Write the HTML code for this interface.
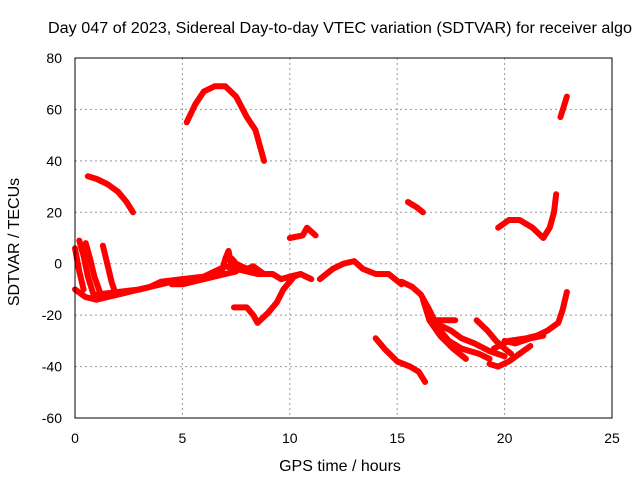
<!DOCTYPE html>
<html><head><meta charset="utf-8"><style>
body{margin:0;background:#fff}
svg{display:block;font-family:"Liberation Sans",sans-serif}
</style></head><body>
<svg id="c" width="640" height="480">
<text x="340" y="33" text-anchor="middle" font-size="15.5" textLength="584" lengthAdjust="spacingAndGlyphs">Day 047 of 2023, Sidereal Day-to-day VTEC variation (SDTVAR) for receiver algo</text>
<text x="340" y="471" text-anchor="middle" font-size="16">GPS time / hours</text>
<text transform="translate(19,242) rotate(-90)" text-anchor="middle" font-size="16">SDTVAR / TECUs</text>
<g id="grid"></g><g id="marks"></g>
<rect x="75" y="58" width="537" height="360" fill="none" stroke="#000"/>
</svg>
<script>
const xTicks=[0,5,10,15,20,25];
const yTicks=[-60,-40,-20,0,20,40,60,80];
const arcHours=[
[0.6,1.0,1.5,2.0,2.4,2.7],
[5.2,5.6,6.0,6.5,7.0,7.5,8.0,8.4,8.8],
[22.6,22.75,22.9],
[15.5,15.9,16.2],
[19.7,20.2,20.7,21.3,21.8,22.1,22.3,22.4],
[10.0,10.6,10.8,11.2],
[0,0.5,1.0,1.5,2,2.5,3,3.5,4,5,6,6.5,7,7.5,8,8.5,9.2,9.6,10,10.5,11],
[4.5,5,6,7,7.5],
[1.0,2,3,4,5],
[0,0.2,0.4],[0.2,0.4,0.6,0.9],[0.5,0.7,0.9,1.2],[1.3,1.5,1.7,1.9],
[6.8,7.0,7.15,7.3],[7.3,7.5,8,8.3,8.8],
[7.4,8.0,8.3,8.5,9.0,9.4,9.7,10.2,10.5],
[11.4,12.0,12.5,13.0,13.4,14.0,14.6,15.2],
[15.2,15.7,16.1,16.5,16.9,17.4,18,18.8,19.3],
[16.2,16.5,17,17.6,18.2],
[16.6,17,17.5,18,18.6,19.3,20],
[16.6,17.2,17.7],
[18.7,19.2,19.6,20,20.3],
[19.3,19.7,20.2,20.7,21.2],
[19.5,20.2,21,21.5,22,22.5,22.7,22.9],
[20,20.5,21.2,21.8],
[14.0,14.4,15.0,15.6,16.0,16.3]
];
const arcValues=[
[34,33,31,28,24,20],
[55,62,67,69,69,65,57,52,40],
[57,61,65],
[24,22,20],
[14,17,17,14,10,14,20,27],
[10,11,14,11],
[-10,-13,-14,-13,-12,-11,-10,-9,-7,-6,-5,-3,-1,-2,-3,-4,-4,-6,-5,-4,-6],
[-8,-8,-6,-4,-3],
[-12,-11,-10,-8,-6],
[6,-3,-10],[9,3,-5,-13],[8,2,-5,-12],[7,0,-7,-12],
[-4,2,5,-2],[2,0,-2,-1,-4],
[-17,-17,-20,-23,-19,-15,-10,-5,-4],
[-6,-2,0,1,-2,-4,-4,-8],
[-7,-9,-12,-18,-25,-30,-33,-35,-37],
[-14,-22,-28,-33,-37],
[-22,-24,-26,-29,-31,-34,-36],
[-22,-22,-22],
[-22,-26,-30,-33,-35],
[-39,-40,-38,-35,-32],
[-33,-30,-29,-28,-26,-23,-18,-11],
[-30,-31,-29,-28],
[-29,-33,-38,-40,-42,-46]
];
const X=h=>75+h*537/25, Y=v=>58+(80-v)*360/140;
const NS='http://www.w3.org/2000/svg';
const g=document.getElementById('grid'), m=document.getElementById('marks');
xTicks.forEach(t=>{
  if(t>0&&t<25){const l=document.createElementNS(NS,'line');
  l.setAttribute('x1',X(t));l.setAttribute('x2',X(t));l.setAttribute('y1',58);l.setAttribute('y2',418);
  l.setAttribute('stroke','#999');l.setAttribute('stroke-dasharray','2,3');
  
  g.appendChild(l);}
  const s=document.createElementNS(NS,'text');s.setAttribute('x',X(t));s.setAttribute('y',443);
  s.setAttribute('text-anchor','middle');s.setAttribute('font-size','14');s.textContent=t;
  
  g.appendChild(s);
});
yTicks.forEach(t=>{
  if(t>-60&&t<80){const l=document.createElementNS(NS,'line');
  l.setAttribute('x1',75);l.setAttribute('x2',612);l.setAttribute('y1',Y(t));l.setAttribute('y2',Y(t));
  l.setAttribute('stroke','#999');l.setAttribute('stroke-dasharray','2,3');
  
  g.appendChild(l);}
  const s=document.createElementNS(NS,'text');s.setAttribute('x',62);s.setAttribute('y',Y(t)+5);
  s.setAttribute('text-anchor','end');s.setAttribute('font-size','14');s.textContent=t;
  
  g.appendChild(s);
});
arcHours.forEach((hs,i)=>{
  const p=document.createElementNS(NS,'polyline');
  p.setAttribute('points',hs.map((h,j)=>X(h)+','+Y(arcValues[i][j])).join(' '));
  p.setAttribute('fill','none');p.setAttribute('stroke','#f00');p.setAttribute('stroke-width','6');
  p.setAttribute('stroke-linejoin','round');p.setAttribute('stroke-linecap','round');
  
  m.appendChild(p);
});
</script>
</body></html>
